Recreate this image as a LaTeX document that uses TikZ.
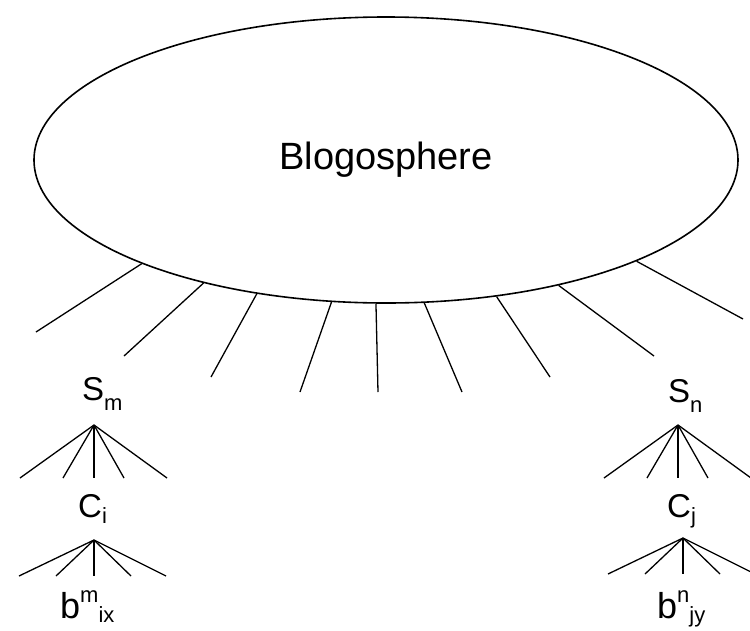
\documentclass[tikz,border=0pt]{standalone}
\usepackage{fontspec}
\setmainfont{Liberation Sans}
\usetikzlibrary{shapes.geometric}

\newcommand\lbidx[2]{\raisebox{#1}{\fontsize{22}{24}\selectfont #2}}

\tikzset{
  lbl/.style={font=\fontsize{33}{36}\selectfont,inner sep=0pt,anchor=base west},
  leaf/.style={font=\fontsize{36}{38}\selectfont,inner sep=0pt,anchor=base west},
  spoke/.style={line width=1.3pt},
}

\begin{document}
\begin{tikzpicture}[x=1pt,y=-1pt]
  \useasboundingbox (0,0) rectangle (750,630);
  \node[draw,ellipse,line width=1.6pt,minimum width=704pt,minimum height=286pt,
        font=\fontsize{38}{40}\selectfont] (sphere) at (386,160) {Blogosphere};

  % links out of the blogosphere
  \foreach \a/\x/\y [count=\k] in {203.7/36/332, 214.5/124/356, 226.9/211/377,
      249.5/300/392, 266.8/378/392, 285.3/462/392, 309.8/550/377,
      324.9/654/356, 338.6/743/319}{
    \coordinate (s\k) at (\x,\y);
    \draw[spoke] (sphere.\a) -- (s\k);
  }

  % the two trees
  \node[lbl] (sm) at (82,400) {S\lbidx{-10pt}{m}};
  \node[lbl] (ci) at (78,517) {C\lbidx{-6pt}{i}};
  \node[leaf] (bm) at (60,618) {b\lbidx{16pt}{m}\lbidx{-4pt}{ix}};
  \node[lbl] (sn) at (668,402) {S\lbidx{-10pt}{n}};
  \node[lbl] (cj) at (667,517) {C\lbidx{-6pt}{j}};
  \node[leaf] (bn) at (657,618) {b\lbidx{16pt}{n}\lbidx{-4pt}{jy}};

  \coordinate (tm) at (94,425);
  \coordinate (um) at (94,540);
  \coordinate (tn) at (678,425);
  \coordinate (un) at (683,538);
  \foreach \r in {m,n}{
    \foreach \d/\w [count=\k] in {-74/1.3pt,-31/1.3pt,0/2pt,30/1.3pt,73/1.3pt}{
      \coordinate (t\r\k) at ([shift={(\d,53)}]t\r);
      \draw[line width=\w] (t\r) -- (t\r\k);
    }
    \foreach \d/\w [count=\k] in {-75/1.3pt,-38/1.3pt,0/2pt,37/1.3pt,72/1.3pt}{
      \coordinate (u\r\k) at ([shift={(\d,36)}]u\r);
      \draw[line width=\w] (u\r) -- (u\r\k);
    }
  }
\end{tikzpicture}
\end{document}
